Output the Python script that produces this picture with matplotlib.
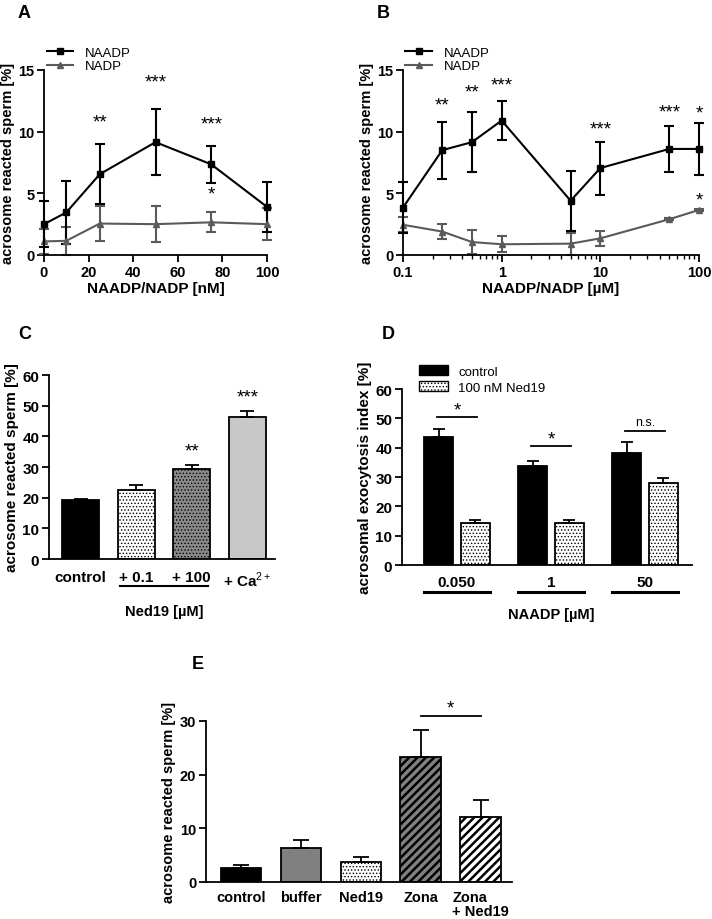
import matplotlib
matplotlib.use('Agg')
import matplotlib.pyplot as plt
import matplotlib.transforms as mtransforms
from matplotlib.patches import Patch
from matplotlib.lines import Line2D
from matplotlib.ticker import FixedLocator, NullFormatter, FixedFormatter
import numpy as np

plt.rcParams['font.family'] = ['Liberation Sans', 'DejaVu Sans']
plt.rcParams['mathtext.fontset'] = 'custom'
plt.rcParams['mathtext.rm'] = 'Liberation Sans'
plt.rcParams['mathtext.bf'] = 'Liberation Sans:bold'
plt.rcParams['hatch.linewidth'] = 0.6
plt.rcParams['axes.linewidth'] = 1.3

# --- panel A data (nM)
a_x = [0, 10, 25, 50, 75, 100]
a_naadp = [2.5, 3.45, 6.55, 9.15, 7.35, 3.9]
a_naadp_err = [1.85, 2.55, 2.45, 2.65, 1.5, 2.05]
a_nadp = [1.1, 1.15, 2.55, 2.5, 2.65, 2.5]
a_nadp_err = [1.0, 1.15, 1.45, 1.45, 0.8, 1.3]
a_star_x = [25, 50, 75, 75]
a_star_y = [10.8, 14.0, 10.6, 4.95]
a_star_txt = ['**', '***', '***', '*']

# --- panel B data (uM)
b_x = [0.1, 0.25, 0.5, 1, 5, 10, 50, 100]
b_naadp = [3.85, 8.5, 9.15, 10.9, 4.4, 7.05, 8.6, 8.6]
b_naadp_err = [2.05, 2.3, 2.45, 1.6, 2.45, 2.15, 1.9, 2.1]
b_nadp = [2.45, 1.9, 1.05, 0.87, 0.92, 1.35, 2.9, 3.65]
b_nadp_err = [0.6, 0.6, 1.0, 0.65, 0.9, 0.6, 0.08, 0.08]
b_star_x = [0.25, 0.5, 1, 10, 50, 100, 100]
b_star_y = [12.15, 13.2, 13.8, 10.2, 11.6, 11.5, 4.5]
b_star_txt = ['**', '**', '***', '***', '***', '*', '*']

# --- panel C
c_labels = ['control', '+ 0.1', '+ 100', '+ Ca$^{2+}$']
c_vals = [19.3, 22.4, 29.5, 46.2]
c_err = [0.3, 1.6, 1.1, 2.0]
c_stars = ['', '', '**', '***']

# --- panel D
d_groups = ['0.050', '1', '50']
d_control = [43.8, 33.6, 38.2]
d_control_err = [2.5, 1.9, 3.6]
d_ned = [14.2, 14.2, 27.8]
d_ned_err = [1.3, 1.0, 1.8]
d_sig = ['*', '*', 'n.s.']
d_sig_y = [50.3, 40.7, 45.8]

# --- panel E
e_labels = ['control', 'buffer', 'Ned19', 'Zona', 'Zona\n+ Ned19']
e_vals = [2.65, 6.25, 3.7, 23.3, 12.2]
e_err = [0.6, 1.5, 1.0, 5.0, 3.1]
e_sig_y = 30.9

W, H = 712, 920
fig = plt.figure(figsize=(W / 100, H / 100), dpi=100)


def box(l, r, top, bot):
    return [l / W, 1 - bot / H, (r - l) / W, (bot - top) / H]


def style(ax, size=10.5):
    for s in ['top', 'right']:
        ax.spines[s].set_visible(False)
    ax.tick_params(direction='out', width=1.3, length=5, labelsize=size, pad=2)
    for lab in ax.get_xticklabels() + ax.get_yticklabels():
        lab.set_fontweight('bold')


def unclip(container):
    for art in container.get_children():
        art.set_clip_on(False)


def line_panel(ax, x, y1, e1, y2, e2):
    c1 = ax.errorbar(x, y2, yerr=e2, color='#5a5a5a', marker='^', ms=4,
                     lw=1.5, elinewidth=1.5, capsize=3.5, capthick=1.5)
    c2 = ax.errorbar(x, y1, yerr=e1, color='black', marker='s', ms=5,
                     lw=1.5, elinewidth=1.5, capsize=3.5, capthick=1.5)
    unclip(c1)
    unclip(c2)
    ax.set_ylim(0, 15)
    ax.set_yticks([0, 5, 10, 15])
    ax.set_ylabel('acrosome reacted sperm [%]', fontsize=10.5, fontweight='bold', labelpad=2)
    h = [Line2D([], [], color='black', marker='s', ms=5, lw=1.5),
         Line2D([], [], color='#5a5a5a', marker='^', ms=4, lw=1.5)]
    ax.legend(h, ['NAADP', 'NADP'], loc='upper left', bbox_to_anchor=(-0.01, 1.155),
              frameon=False, fontsize=9.5, handlelength=2.0, labelspacing=0.1,
              handletextpad=0.9, borderaxespad=0)


# ---------- A
axA = fig.add_axes(box(44, 267, 71, 256))
line_panel(axA, a_x, a_naadp, a_naadp_err, a_nadp, a_nadp_err)
axA.set_xlim(0, 100)
axA.set_xticks([0, 20, 40, 60, 80, 100])
axA.set_xlabel('NAADP/NADP [nM]', fontsize=11, fontweight='bold', labelpad=2)
for x, y, t in zip(a_star_x, a_star_y, a_star_txt):
    axA.text(x, y, t, ha='center', va='center', fontsize=13.5)
style(axA)

# ---------- B
axB = fig.add_axes(box(403, 699, 71, 256))
axB.set_xscale('log')
line_panel(axB, b_x, b_naadp, b_naadp_err, b_nadp, b_nadp_err)
axB.set_xlim(0.1, 100)
axB.xaxis.set_major_locator(FixedLocator([0.1, 1, 10, 100]))
axB.xaxis.set_major_formatter(FixedFormatter(['0.1', '1', '10', '100']))
minors = [m * 10.0 ** d for d in [-1, 0, 1] for m in range(2, 10)]
axB.xaxis.set_minor_locator(FixedLocator(minors))
axB.xaxis.set_minor_formatter(NullFormatter())
axB.set_xlabel('NAADP/NADP [µM]', fontsize=11, fontweight='bold', labelpad=2)
for x, y, t in zip(b_star_x, b_star_y, b_star_txt):
    axB.text(x, y, t, ha='center', va='center', fontsize=13.5)
style(axB)
axB.tick_params(which='minor', direction='out', width=1.0, length=3)

# ---------- C
axC = fig.add_axes(box(49, 275, 376, 560))
cx = np.arange(len(c_vals))
c_face = ['black', 'white', '#8a8a8a', '#c8c8c8']
c_hatch = ['', '.....', '.....', '']
for i in range(len(c_vals)):
    axC.bar(cx[i], c_vals[i], width=0.67, color=c_face[i], edgecolor='black',
            linewidth=1.3, hatch=c_hatch[i])
    axC.errorbar(cx[i], c_vals[i], yerr=[[0], [c_err[i]]], color='black',
                 elinewidth=1.3, capsize=5, capthick=1.3, fmt='none')
    if c_stars[i]:
        axC.text(cx[i], c_vals[i] + c_err[i] + 4.5, c_stars[i], ha='center',
                 va='center', fontsize=13.5)
axC.set_xlim(-0.57, 3.5)
axC.set_ylim(0, 60)
axC.set_yticks(range(0, 61, 10))
axC.set_xticks(cx)
axC.set_xticklabels(c_labels)
axC.set_ylabel('acrosome reacted sperm [%]', fontsize=11, fontweight='bold', labelpad=2)
style(axC, 11)
axC.tick_params(axis='x', length=0, pad=8, labelsize=11)
trC = mtransforms.blended_transform_factory(axC.transData, axC.transAxes)
axC.plot([0.7, 2.3], [-0.148, -0.148], color='black', lw=1.5, transform=trC, clip_on=False)
axC.text(1.5, -0.285, 'Ned19 [µM]', transform=trC, ha='center', va='center',
         fontsize=10.5, fontweight='bold')

# ---------- D
axD = fig.add_axes(box(402, 692, 390, 566))
dx = np.arange(len(d_groups))
off = 0.195
bw = 0.31
axD.bar(dx - off, d_control, width=bw, color='black', edgecolor='black', linewidth=1.3)
axD.bar(dx + off, d_ned, width=bw, color='white', edgecolor='black', linewidth=1.3,
        hatch='.....')
axD.errorbar(dx - off, d_control, yerr=[[0] * 3, d_control_err], fmt='none',
             color='black', elinewidth=1.3, capsize=4.5, capthick=1.3)
axD.errorbar(dx + off, d_ned, yerr=[[0] * 3, d_ned_err], fmt='none',
             color='black', elinewidth=1.3, capsize=4.5, capthick=1.3)
for i in range(3):
    axD.plot([dx[i] - 0.21, dx[i] + 0.21], [d_sig_y[i], d_sig_y[i]], color='black', lw=1.3)
    if d_sig[i] == '*':
        axD.text(dx[i], d_sig_y[i] + 2.4, '*', ha='center', va='center', fontsize=13.5)
    else:
        axD.text(dx[i], d_sig_y[i] + 1.0, d_sig[i], ha='center', va='bottom', fontsize=9)
axD.set_xlim(-0.585, 2.5)
axD.set_ylim(0, 60)
axD.set_yticks(range(0, 61, 10))
axD.set_xticks(dx)
axD.set_xticklabels(d_groups)
axD.set_ylabel('acrosomal exocytosis index [%]', fontsize=11, fontweight='bold', labelpad=2)
style(axD, 11)
axD.tick_params(axis='x', length=0, pad=7, labelsize=11)
trD = mtransforms.blended_transform_factory(axD.transData, axD.transAxes)
for i in range(3):
    axD.plot([dx[i] - 0.35, dx[i] + 0.35], [-0.153, -0.153], color='black', lw=2.2,
             transform=trD, clip_on=False)
axD.text(1, -0.28, 'NAADP [µM]', transform=trD, ha='center', va='center',
         fontsize=10.5, fontweight='bold')
hD = [Patch(facecolor='black', edgecolor='black'),
      Patch(facecolor='white', edgecolor='black', hatch='.....')]
axD.legend(hD, ['control', '100 nM Ned19'], loc='upper left', bbox_to_anchor=(0.04, 1.165),
           frameon=False, fontsize=9.5, handlelength=2.2, handleheight=0.8,
           labelspacing=0.25, handletextpad=0.8, borderaxespad=0)

# ---------- E
axE = fig.add_axes(box(206, 512, 722, 883))
ex = np.arange(len(e_vals))
e_face = ['black', '#808080', 'white', '#808080', 'white']
e_hatch = ['', '', '.....', '////', '////']
for i in range(len(e_vals)):
    b = axE.bar(ex[i], e_vals[i], width=0.68, color=e_face[i], edgecolor='black',
                linewidth=1.3, hatch=e_hatch[i])
    if e_hatch[i] == '////':
        for p in b.patches:
            if hasattr(p, 'set_hatch_linewidth'):
                p.set_hatch_linewidth(1.8)
    axE.errorbar(ex[i], e_vals[i], yerr=[[0], [e_err[i]]], color='black',
                 elinewidth=1.3, capsize=6, capthick=1.3, fmt='none')
axE.plot([3, 4], [e_sig_y, e_sig_y], color='black', lw=1.3, clip_on=False)
axE.text(3.5, e_sig_y + 1.5, '*', ha='center', va='center', fontsize=13.5)
axE.set_xlim(-0.583, 4.52)
axE.set_ylim(0, 30)
axE.set_yticks([0, 10, 20, 30])
axE.set_xticks(ex)
axE.set_xticklabels(e_labels, multialignment='left', linespacing=1.0)
axE.set_ylabel('acrosome reacted sperm [%]', fontsize=10.5, fontweight='bold', labelpad=3)
style(axE)
axE.tick_params(axis='x', length=0, pad=6, labelsize=10.5)

# panel letters
for x, y, t in [(18, 14, 'A'), (377, 14, 'B'), (18, 335, 'C'), (382, 335, 'D'), (192, 665, 'E')]:
    fig.text(x / W, 1 - y / H, t, fontsize=13, fontweight='bold', va='center', ha='left')

fig.savefig('out.png', dpi=100)
